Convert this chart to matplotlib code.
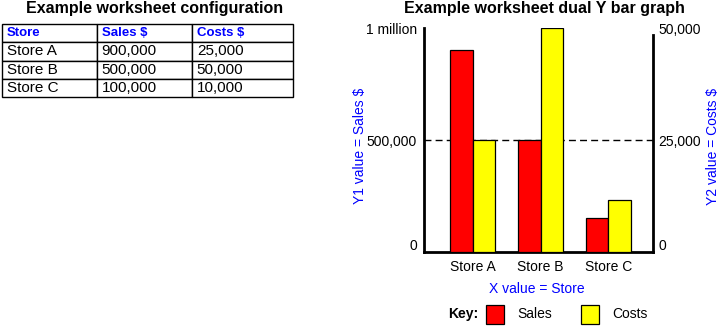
import matplotlib
matplotlib.use("Agg")
import matplotlib.pyplot as plt
from matplotlib.patches import Rectangle
from matplotlib.transforms import ScaledTranslation
import numpy as np

plt.rcParams['font.family'] = ['Liberation Sans', 'DejaVu Sans']

# table values
table_headers = ["Store", "Sales $", "Costs $"]
table_stores = ["Store A", "Store B", "Store C"]
table_sales = [900000, 500000, 100000]
table_costs = [25000, 50000, 10000]

# values as drawn in the bar graph
stores = ["Store A", "Store B", "Store C"]
sales = [900000, 500000, 150000]
costs = [25000, 50000, 11700]

y1_ticks = [0, 500000, 1000000]
y1_ticklabels = ["0", "500,000", "1 million"]
y2_ticks = [0, 25000, 50000]
y2_ticklabels = ["0", "25,000", "50,000"]

W, H = 725, 326
fig = plt.figure(figsize=(W / 100, H / 100), dpi=100)
BLUE = "#0000ff"

def fx(px):
    return px / W

def fy(py):
    return 1 - py / H

# ---- table on the left ----
fig.text(fx(155), fy(9), "Example worksheet configuration", ha="center", va="center",
         fontsize=11.5, fontweight="bold")
tax = fig.add_axes([fx(2), fy(97), fx(291), 73 / H])
tax.axis("off")
rows = [[s, f"{a:,}", f"{c:,}"] for s, a, c in zip(table_stores, table_sales, table_costs)]
tbl = tax.table(cellText=rows, colLabels=table_headers, cellLoc="left", colLoc="left",
                colWidths=[95 / 291, 94.7 / 291, 101.3 / 291], bbox=[0, 0, 1, 1])
tbl.auto_set_font_size(False)
for (r, c), cell in tbl.get_celld().items():
    cell.set_edgecolor("black")
    cell.set_linewidth(1.0)
    cell.PAD = 0.05
    if r == 0:
        cell.get_text().set_color(BLUE)
        cell.get_text().set_fontweight("bold")
        cell.get_text().set_fontsize(9.5)
    else:
        cell.get_text().set_fontsize(11)

# ---- dual Y bar graph ----
fig.text(fx(544), fy(9), "Example worksheet dual Y bar graph", ha="center", va="center",
         fontsize=11.5, fontweight="bold")

ax = fig.add_axes([fx(424), fy(252), fx(653 - 424), (252 - 28) / H])
ax2 = ax.twinx()

x = np.arange(len(stores))
w = 0.335
y1_top = 1000000 * 224 / 226

ax.bar(x - w / 2, sales, width=w, color="#ff0000", edgecolor="black", linewidth=0.9, zorder=3)
ax.axhline(500000, color="black", lw=1, linestyle=(0, (5, 3)), zorder=1)
ax.set_ylim(0, y1_top)
ax.set_xlim(-0.72, 2.66)

ax2.bar(x + w / 2, costs, width=w, color="#ffff00", edgecolor="black", linewidth=0.9)
ax2.set_ylim(0, y1_top / 20)
ax2.set_zorder(ax.get_zorder() + 1)
ax2.patch.set_visible(False)

ax.set_xticks(x)
ax.set_xticklabels(stores, fontsize=10)
ax.set_yticks(y1_ticks)
ax.set_yticklabels(y1_ticklabels, fontsize=10)
ax2.set_yticks(y2_ticks)
ax2.set_yticklabels(y2_ticklabels, fontsize=10)
ax.tick_params(axis="both", length=0)
ax.tick_params(axis="x", pad=6)
ax.tick_params(axis="y", pad=5)
ax2.tick_params(axis="y", length=0, pad=4)

# the zero labels sit a little above the base line
lift = ScaledTranslation(0, 7 / 100, fig.dpi_scale_trans)
for lbl in (ax.get_yticklabels()[0], ax2.get_yticklabels()[0]):
    lbl.set_transform(lbl.get_transform() + lift)

ax.spines["top"].set_visible(False)
ax.spines["right"].set_visible(False)
ax2.spines["top"].set_visible(False)
ax2.spines["left"].set_visible(False)
ax2.spines["bottom"].set_visible(False)
ax.spines["left"].set_linewidth(2)
ax.spines["bottom"].set_linewidth(2)
ax2.spines["right"].set_linewidth(2)
ax2.spines["right"].set_bounds(0, 48500)

fig.text(fx(360), fy(146), "Y1 value = Sales $", rotation=90, ha="center", va="center",
         color=BLUE, fontsize=10)
fig.text(fx(713), fy(146), "Y2 value = Costs $", rotation=90, ha="center", va="center",
         color=BLUE, fontsize=10)
fig.text(fx(537), fy(289), "X value = Store", ha="center", va="center", color=BLUE, fontsize=10)

# key
fig.text(fx(448), fy(314), "Key:", ha="left", va="center", fontsize=10, fontweight="bold")
fig.patches.append(Rectangle((fx(486), fy(324)), fx(18), 19 / H, transform=fig.transFigure,
                             facecolor="#ff0000", edgecolor="black", linewidth=0.9))
fig.text(fx(517), fy(314), "Sales", ha="left", va="center", fontsize=10)
fig.patches.append(Rectangle((fx(581), fy(324)), fx(18), 19 / H, transform=fig.transFigure,
                             facecolor="#ffff00", edgecolor="black", linewidth=0.9))
fig.text(fx(612), fy(314), "Costs", ha="left", va="center", fontsize=10)

fig.savefig("out.png", dpi=100)
